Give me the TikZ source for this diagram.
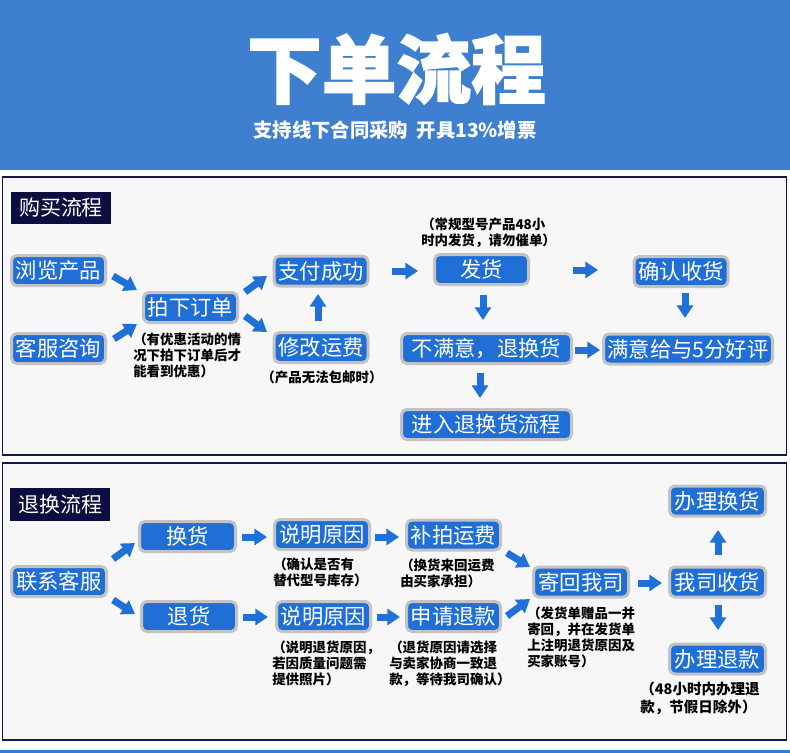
\documentclass[tikz,border=0pt]{standalone}
\usepackage{fontspec}
\newfontfamily\cjk{Noto Sans CJK SC}
\newfontfamily\cjkheavy[BoldFeatures={FakeBold=2}]{Noto Sans CJK SC}
\usetikzlibrary{arrows.meta,calc}
\definecolor{hdr}{HTML}{3F7FCF}
\definecolor{boxblue}{HTML}{1F6FD6}
\definecolor{boxedge}{HTML}{C3C3C3}
\definecolor{navy}{HTML}{0C0E40}
\definecolor{panelbg}{HTML}{F7F7F7}
\definecolor{paneledge}{HTML}{16164E}
\definecolor{band}{HTML}{2E7CD8}
\definecolor{arrblue}{HTML}{1F70D8}
\tikzset{
  bbox/.style={draw=boxedge, line width=2.25pt, fill=boxblue, rounded corners=4pt,
    text=white, font=\cjk\fontsize{16}{18}\selectfont, inner sep=0pt,
    minimum height=22.5pt, minimum width={(#1-3)*0.75pt}},
  bbox/.default=97,
  tag/.style={fill=navy, text=white, font=\cjk\fontsize{15.75}{18}\selectfont,
    inner sep=0pt, minimum width=75pt, minimum height=24pt},
  note/.style={font=\cjk\bfseries\fontsize{10.1}{12}\selectfont, align=left,
    inner sep=0pt, anchor=north west, text=black},
  blk/.style={draw=arrblue, line width=5.25pt,
    -{Triangle[length=9.5pt,width=12pt]}},
}
\begin{document}
\begin{tikzpicture}[x=0.75pt,y=-0.75pt]
\useasboundingbox (0,0) rectangle (790,753);
\fill[white] (0,0) rectangle (790,753);
\fill[hdr] (0,0) rectangle (790,170);
\fill[band] (0,750) rectangle (790,753);
\draw[paneledge, line width=1.2pt, fill=panelbg] (2.5,177) rectangle (786.5,455);
\draw[paneledge, line width=1.2pt, fill=panelbg] (2.5,463) rectangle (786.5,740);

\node[font=\cjkheavy\bfseries\fontsize{56}{60}\selectfont, text=white, inner sep=0pt] (title) at (396.5,69) {下单流程};
\node[font=\cjk\bfseries\fontsize{14.5}{16}\selectfont, text=white, inner sep=0pt] (sub) at (395,130) {支持线下合同采购\hspace{0.45em}开具13\%增票};

% panel 1
\node[tag] (tag1) at (61,207.5) {购买流程};
\node[bbox] (liulan) at (58.5,270.5) {浏览产品};
\node[bbox] (kefu) at (58.5,348.5) {客服咨询};
\node[bbox] (paixia) at (190.5,307.5) {拍下订单};
\node[bbox] (zhifu) at (321,271) {支付成功};
\node[bbox] (xiugai) at (321,347.5) {修改运费};
\node[bbox] (fahuo) at (481.5,269.5) {发货};
\node[bbox] (queren) at (681,271.5) {确认收货};
\node[bbox=173] (bumanyi) at (486.5,348.5) {不满意，退换货};
\node[bbox=172] (manyi) at (688,349) {满意给与5分好评};
\node[bbox=173] (jinru) at (486.5,424.5) {进入退换货流程};

\node[note] (n1) at (133,333) {（有优惠活动的情\\况下拍下订单后才\\能看到优惠）};
\node[note, anchor=center] (n2) at (322,377) {（产品无法包邮时）};
\node[note] (n3) at (421,218) {（常规型号产品48小\\时内发货，请勿催单）};

\draw[blk] ($(liulan)+(54.5,5.5)$) -- ($(paixia)+(-53.5,-17.5)$);
\draw[blk] ($(kefu)+(55.5,-9.5)$) -- ($(paixia)+(-53.5,16.5)$);
\draw[blk] ($(paixia)+(54.5,-15.5)$) -- ($(zhifu)+(-54,5)$);
\draw[blk] ($(paixia)+(54.5,8.5)$) -- ($(xiugai)+(-54,-15.5)$);
\draw[blk] ($(xiugai)+(-3,-26.5)$) -- ($(zhifu)+(-3,23)$);
\draw[blk] ($(zhifu)+(71,0)$) -- ($(fahuo)+(-63.5,1.5)$);
\draw[blk] ($(fahuo)+(91.5,0.5)$) -- ($(queren)+(-83,-1.5)$);
\draw[blk] ($(fahuo)+(1.5,25.5)$) -- ($(bumanyi)+(-3.5,-28.5)$);
\draw[blk] ($(queren)+(4,21.5)$) -- ($(manyi)+(-3,-31)$);
\draw[blk] ($(bumanyi)+(88.5,1.5)$) -- ($(manyi)+(-88,1)$);
\draw[blk] ($(bumanyi)+(-6.5,24.5)$) -- ($(jinru)+(-6.5,-26.5)$);

% panel 2
\node[tag, minimum height=24.75pt] (tag2) at (60,504.5) {退换流程};
\node[bbox=98] (lianxi) at (59,581.5) {联系客服};
\node[bbox=99] (huanhuo) at (187.5,536.5) {换货};
\node[bbox=98] (tuihuo) at (189,616.5) {退货};
\node[bbox=98] (shuoming1) at (322,534.5) {说明原因};
\node[bbox] (shuoming2) at (323.5,616.5) {说明原因};
\node[bbox] (bupai) at (453.5,535) {补拍运费};
\node[bbox] (shenqing) at (453.5,616.5) {申请退款};
\node[bbox=98] (jihui) at (581,582) {寄回我司};
\node[bbox=99] (shouhuo) at (717.5,582) {我司收货};
\node[bbox=99] (banhuan) at (717.5,501) {办理换货};
\node[bbox=99] (bantui) at (717.5,659) {办理退款};

\node[note] (n4) at (273,558) {（确认是否有\\替代型号库存）};
\node[note] (n5) at (272,641) {（说明退货原因，\\若因质量问题需\\提供照片）};
\node[note] (n6) at (400,559) {（换货来回运费\\由买家承担）};
\node[note] (n7) at (389,641) {（退货原因请选择\\与卖家协商一致退\\款，等待我司确认）};
\node[note] (n8) at (527,607) {（发货单赠品一并\\寄回，并在发货单\\上注明退货原因及\\买家账号）};
\node[note, font=\cjk\bfseries\fontsize{10.9}{13.5}\selectfont] (n9) at (640,682) {（48小时内办理退\\款，节假日除外）};

\draw[blk] ($(lianxi)+(54,-22.5)$) -- ($(huanhuo)+(-52.5,6.5)$);
\draw[blk] ($(lianxi)+(54,18.5)$) -- ($(tuihuo)+(-54,-2.5)$);
\draw[blk] ($(huanhuo)+(54.5,0.5)$) -- ($(shuoming1)+(-55,2.5)$);
\draw[blk] ($(tuihuo)+(54,0.5)$) -- ($(shuoming2)+(-55.5,0.5)$);
\draw[blk] ($(shuoming1)+(53,2.5)$) -- ($(bupai)+(-54.5,2)$);
\draw[blk] ($(shuoming2)+(53.5,0.5)$) -- ($(shenqing)+(-53.5,0.5)$);
\draw[blk] ($(bupai)+(53.5,18)$) -- ($(jihui)+(-51,-15)$);
\draw[blk] ($(shenqing)+(53.5,-0.5)$) -- ($(jihui)+(-51,17)$);
\draw[blk] ($(jihui)+(57,1)$) -- ($(shouhuo)+(-55.5,1)$);
\draw[blk] ($(shouhuo)+(0.5,-27)$) -- ($(banhuan)+(0.5,29)$);
\draw[blk] ($(shouhuo)+(0.5,23)$) -- ($(bantui)+(0.5,-29)$);
\end{tikzpicture}
\end{document}
